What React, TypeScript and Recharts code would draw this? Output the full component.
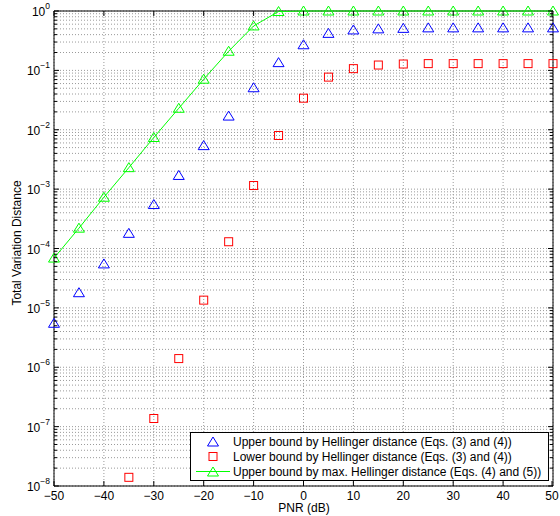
import { ComposedChart, CartesianGrid, Line, ReferenceLine, XAxis, YAxis } from 'recharts';

const pnr = [-50, -45, -40, -35, -30, -25, -20, -15, -10, -5, 0, 5, 10, 15, 20, 25, 30, 35, 40, 45, 50];
const upperHellinger = [5.5e-6, 1.8e-5, 5.5e-5, 1.8e-4, 5.5e-4, 1.7e-3, 5.4e-3, 1.7e-2, 5.1e-2, 0.135, 0.27, 0.42, 0.48, 0.5, 0.51, 0.52, 0.52, 0.52, 0.52, 0.52, 0.52];
const lowerHellinger = [null, null, null, 1.4e-8, 1.37e-7, 1.4e-6, 1.35e-5, 1.3e-4, 1.15e-3, 8e-3, 0.034, 0.077, 0.107, 0.123, 0.128, 0.13, 0.13, 0.13, 0.13, 0.13, 0.13];
const upperMaxHellinger = [6.9e-5, 2.2e-4, 7.3e-4, 2.3e-3, 7.4e-3, 2.3e-2, 7.1e-2, 0.21, 0.56, 0.98, 1, 1, 1, 1, 1, 1, 1, 1, 1, 1, 1];

const xTicks = [-50, -40, -30, -20, -10, 0, 10, 20, 30, 40, 50];
const yExponents = [-8, -7, -6, -5, -4, -3, -2, -1, 0];
const minorFactors = [2, 3, 4, 5, 6, 7, 8, 9];

const legendLabels = [
  'Upper bound by Hellinger distance (Eqs. (3) and (4))',
  'Lower bound by Hellinger distance (Eqs. (3) and (4))',
  'Upper bound by max. Hellinger distance (Eqs. (4) and (5))',
];

const data = pnr.map((x, i) => ({
  x,
  up: upperHellinger[i],
  low: lowerHellinger[i],
  max: upperMaxHellinger[i],
}));

// decades plus minor 2..9 ticks, so the grid gets the fine log lines too
const yTicks: number[] = [];
yExponents.forEach((e) => {
  yTicks.push(Math.pow(10, e));
  if (e < 0) minorFactors.forEach((f) => yTicks.push(f * Math.pow(10, e)));
});

const FONT = '"Liberation Sans", Arial, Helvetica, sans-serif';
const BLUE = '#0000ff';
const RED = '#ff0000';
const GREEN = '#00ff00';
const GRID = '#9a9a9a';
const PLOT_LEFT = 54;
const PLOT_RIGHT = 553;
const PLOT_TOP = 11;
const PLOT_BOTTOM = 486;

const triangle = (cx: number, cy: number) =>
  `M${cx},${cy - 5} L${cx + 5.5},${cy + 4} L${cx - 5.5},${cy + 4} Z`;

const TriDot = (color: string) => (props: any) => {
  const { cx, cy, index } = props;
  if (cx == null || cy == null || isNaN(cy)) return <g key={index} />;
  return <path key={index} d={triangle(cx, cy)} fill="none" stroke={color} strokeWidth={1} />;
};

const SquareDot = (props: any) => {
  const { cx, cy, index, payload } = props;
  if (cx == null || cy == null || payload.low == null || isNaN(cy)) return <g key={index} />;
  return <rect key={index} x={cx - 4} y={cy - 4} width={8} height={8} fill="none" stroke={RED} strokeWidth={1} />;
};

const YTick = (props: any) => {
  const { y, payload } = props;
  const lg = Math.log10(payload.value);
  const e = Math.round(lg);
  const major = Math.abs(lg - e) < 1e-6;
  const len = major ? 5 : 3;
  const exp = e < 0 ? '\u2212' + Math.abs(e) : String(e);
  return (
    <g>
      <line x1={PLOT_LEFT} y1={y} x2={PLOT_LEFT + len} y2={y} stroke="#000" />
      <line x1={PLOT_RIGHT} y1={y} x2={PLOT_RIGHT - len} y2={y} stroke="#000" />
      {major && (
        <text x={50} y={y + 5} textAnchor="end" fontFamily={FONT} fontSize={12} fill="#000">
          <tspan>10</tspan>
          <tspan dy={-7} fontSize={8.5}>{exp}</tspan>
        </text>
      )}
    </g>
  );
};

const XTick = (props: any) => {
  const { x, payload } = props;
  const v = payload.value < 0 ? '\u2212' + Math.abs(payload.value) : String(payload.value);
  return (
    <g>
      <line x1={x} y1={PLOT_BOTTOM} x2={x} y2={PLOT_BOTTOM - 5} stroke="#000" />
      <line x1={x} y1={PLOT_TOP} x2={x} y2={PLOT_TOP + 5} stroke="#000" />
      <text x={x} y={499.5} textAnchor="middle" fontFamily={FONT} fontSize={12} fill="#000">
        {v}
      </text>
    </g>
  );
};

const LegendBox = () => (
  <div
    style={{
      position: 'absolute',
      left: 190,
      top: 432,
      border: '1px solid #000',
      background: '#fff',
      width: 359,
      height: 49,
      boxSizing: 'border-box',
      paddingTop: 1,
      fontFamily: FONT,
      fontSize: 12,
      color: '#000',
    }}
  >
    {legendLabels.map((label, i) => (
      <div key={label} style={{ display: 'flex', alignItems: 'center', height: 15 }}>
        <svg width={42} height={15} style={{ flex: 'none' }}>
          {i === 2 && <line x1={5} y1={7.5} x2={39} y2={7.5} stroke={GREEN} strokeWidth={1} />}
          {i === 1 ? (
            <rect x={18} y={3.5} width={8} height={8} fill="none" stroke={RED} />
          ) : (
            <path d={triangle(22, 8)} fill="none" stroke={i === 0 ? BLUE : GREEN} />
          )}
        </svg>
        <span style={{ whiteSpace: 'nowrap' }}>{label}</span>
      </div>
    ))}
  </div>
);

export default function App() {
  return (
    <div style={{ position: 'absolute', left: 0, top: 0, width: 560, height: 516, background: '#fff' }}>
      <ComposedChart
        width={560}
        height={516}
        data={data}
        margin={{ top: PLOT_TOP, right: 560 - PLOT_RIGHT, bottom: 0, left: 0 }}
      >
        <CartesianGrid stroke={GRID} strokeDasharray="1 2" />
        <XAxis
          dataKey="x"
          type="number"
          domain={[-50, 50]}
          ticks={xTicks}
          height={516 - PLOT_BOTTOM}
          tickLine={false}
          axisLine={{ stroke: '#000' }}
          tick={<XTick />}
          label={{
            content: () => (
              <text x={304} y={512} textAnchor="middle" fontFamily={FONT} fontSize={12} fill="#000">
                PNR (dB)
              </text>
            ),
          }}
        />
        <YAxis
          scale="log"
          type="number"
          domain={[1e-8, 1]}
          ticks={yTicks}
          interval={0}
          width={PLOT_LEFT}
          tickLine={false}
          axisLine={{ stroke: '#000' }}
          tick={<YTick />}
          label={{
            content: () => (
              <text
                x={21}
                y={243}
                transform="rotate(-90 21 243)"
                textAnchor="middle"
                fontFamily={FONT}
                fontSize={12}
                fill="#000"
              >
                Total Variation Distance
              </text>
            ),
          }}
        />
        <ReferenceLine x={50} stroke="#000" />
        <ReferenceLine y={1} stroke="#000" />
        <Line dataKey="up" stroke="none" dot={TriDot(BLUE)} isAnimationActive={false} />
        <Line dataKey="low" stroke="none" dot={SquareDot} isAnimationActive={false} />
        <Line
          dataKey="max"
          stroke={GREEN}
          strokeWidth={1}
          dot={TriDot(GREEN)}
          isAnimationActive={false}
        />
      </ComposedChart>
      <LegendBox />
    </div>
  );
}
